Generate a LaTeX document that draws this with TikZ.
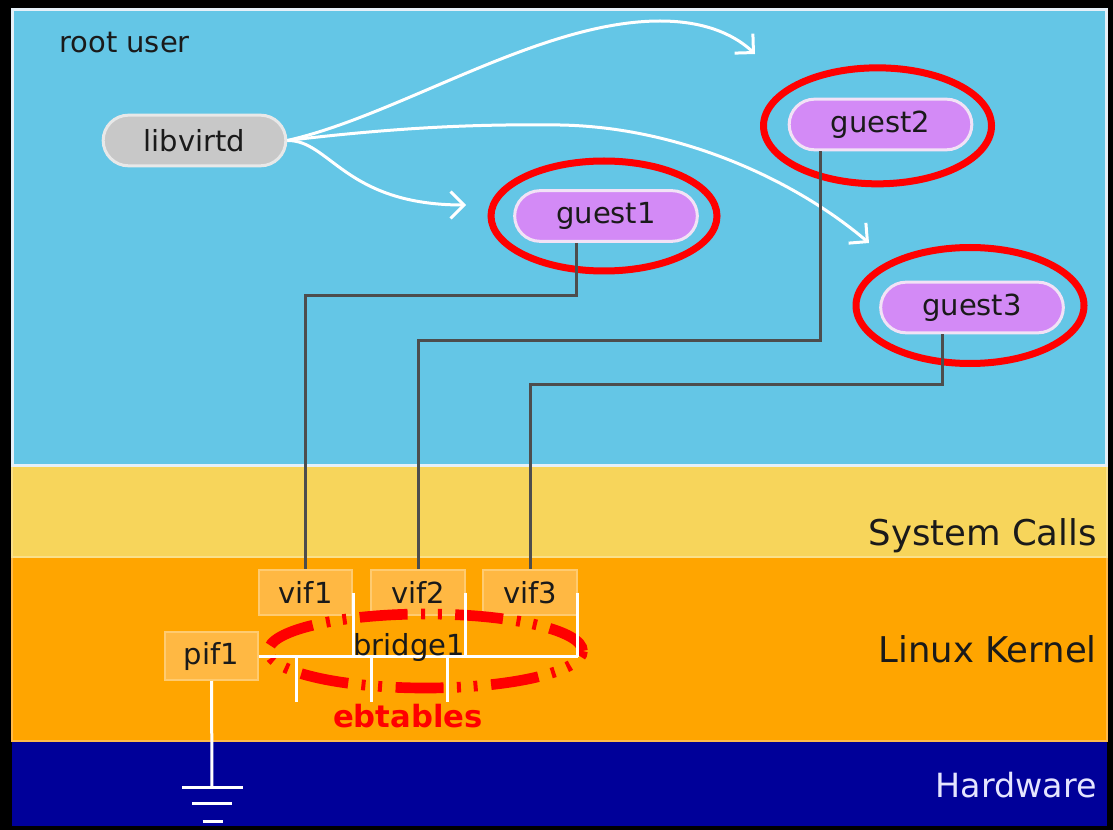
\documentclass[tikz,border=0pt]{standalone}
\usepackage{fontspec}
\setmainfont{DejaVu Sans}
\usetikzlibrary{arrows.meta,shapes.misc}

\definecolor{userblue}{HTML}{64C6E6}
\definecolor{userrim}{HTML}{E6F0F8}
\definecolor{sysyellow}{HTML}{F7D55B}
\definecolor{sysrim}{HTML}{FAE08A}
\definecolor{kernorange}{HTML}{FFA500}
\definecolor{kernrim}{HTML}{FFBA4A}
\definecolor{hwblue}{HTML}{000099}
\definecolor{hwtext}{HTML}{E4E4FF}
\definecolor{ink}{HTML}{1A1A1A}
\definecolor{daemongray}{HTML}{C8C8C8}
\definecolor{daemonrim}{HTML}{E8E8E8}
\definecolor{guestviolet}{HTML}{D38AF6}
\definecolor{guestrim}{HTML}{F2E2F6}
\definecolor{ifacefill}{HTML}{FFB843}
\definecolor{ifacerim}{HTML}{FFCB70}
\definecolor{linkgray}{HTML}{4D4D4D}

\newcommand{\lblfont}{\fontsize{21.75pt}{26pt}\selectfont}
\newcommand{\filterfont}{\fontsize{23pt}{27pt}\selectfont\bfseries}
\newcommand{\layerfont}{\fontsize{26.6pt}{31pt}\selectfont}
\newcommand{\hwfont}{\fontsize{25pt}{30pt}\selectfont}

\begin{document}
\begin{tikzpicture}[x=0.75pt,y=-0.75pt,
  pill/.style={rounded rectangle, line width=2.25pt, minimum width=137pt,
    minimum height=38pt, inner sep=0pt, text=ink, font=\lblfont},
  daemon/.style={pill, fill=daemongray, draw=daemonrim},
  guest/.style={pill, fill=guestviolet, draw=guestrim},
  iface/.style={rectangle, fill=ifacefill, draw=ifacerim, line width=1.5pt,
    minimum width=70pt, minimum height=33.75pt, inner sep=0pt, text=ink, font=\lblfont},
  ring/.style={draw=red, line width=5.25pt},
  flow/.style={draw=white, line width=2.25pt,
    -{Straight Barb[length=10pt,width=20pt,line width=2.25pt]}},
  link/.style={draw=linkgray, line width=2.25pt},
  wire/.style={draw=white, line width=2.25pt},
  layer/.style={anchor=base east, inner sep=0pt, text=ink, font=\layerfont},
  plain/.style={inner sep=0pt, text=ink, font=\lblfont}
]
\fill[black] (0,0) rectangle (1113,830);
\useasboundingbox (0,0) rectangle (1113,830);

% layers
\fill[hwblue] (12,741) rectangle (1107,826);
\filldraw[fill=kernorange, draw=kernrim, line width=1.5pt] (12,557) rectangle (1107,741);
\filldraw[fill=sysyellow, draw=sysrim, line width=1.5pt] (12,466) rectangle (1107,557);
\filldraw[fill=userblue, draw=userrim, line width=2.25pt] (12,10) rectangle (1106,465);

\node[plain, anchor=base west] (rootlbl) at (59,53) {root user};
\node[layer] (syscalls) at (1097,545) {System Calls};
\node[layer] (kernel) at (1097,662) {Linux Kernel};
\node[layer, text=hwtext, font=\hwfont] (hardware) at (1097,797) {Hardware};

% processes
\node[daemon] (lib) at (194.5,140.5) {libvirtd};
\node[guest] (g1) at (606,216) {guest1};
\node[guest] (g2) at (880.5,124.5) {guest2};
\node[guest] (g3) at (972,307.5) {guest3};

% monitored guests
\draw[ring] ([xshift=-1.5pt]g1.center) ellipse [x radius=84.75pt, y radius=41.25pt];
\draw[ring] ([xshift=-2.25pt,yshift=-1pt]g2.center) ellipse [x radius=85.5pt, y radius=43.5pt];
\draw[ring] ([xshift=-1.5pt,yshift=1.5pt]g3.center) ellipse [x radius=85.5pt, y radius=43.5pt];

% libvirtd launches the guests
\coordinate (t1) at (466,205);
\coordinate (t2) at (755,54);
\coordinate (t3) at (869,243);
\draw[flow] (lib.east) .. controls (330,140) and (345,205) .. (t1);
\draw[flow] (lib.east) .. controls (400,115) and (540,21) .. (660,21)
  .. controls (710,21) and (738,38) .. (t2);
\draw[flow] (lib.east) .. controls (400,127) and (480,124) .. (560,125)
  .. controls (680,127) and (795,180) .. (t3);

% kernel interfaces
\node[iface] (v1) at (305.5,592.5) {vif1};
\node[iface] (v2) at (418,592.5) {vif2};
\node[iface] (v3) at (530,592.5) {vif3};
\node[iface, minimum height=36pt] (p1) at (211.5,656) {pif1};

% guest NICs down to their vifs
\draw[link] ([xshift=-22.5pt]g1.south) -- ++(0,53) -| (v1.north);
\draw[link] ([xshift=-45pt]g2.south) -- ++(0,189) -| (v2.north);
\draw[link] ([xshift=-22.5pt]g3.south) -- ++(0,50) -| (v3.north);

% ebtables filter around the bridge (seven dash-dot-dot periods)
\draw[red, line width=8pt,
  dash pattern=on 36pt off 10pt on 3pt off 9.5pt on 3pt off 10.2pt, dash phase=4.5pt]
  (425.5,651) ellipse [x radius=117.75pt, y radius=27.75pt];

% bridge
\coordinate (bus) at (578,657);
\coordinate (s1) at (296,702);
\coordinate (s2) at (371,702);
\coordinate (s3) at (447,702);
\draw[wire] (p1.east) -- (p1.east -| bus);
\draw[wire] (v1.east) -- (v1.east |- bus);
\draw[wire] (v2.east) -- (v2.east |- bus);
\draw[wire] (v3.east) -- (v3.east |- bus);
\draw[wire] (s1 |- bus) -- (s1);
\draw[wire] (s2 |- bus) -- (s2);
\draw[wire] (s3 |- bus) -- (s3);
\node[plain, anchor=base] (br) at (409,655) {bridge1};
\node[inner sep=0pt, anchor=base, text=red, font=\filterfont] (ebt) at (408,727) {ebtables};

% earth
\coordinate (gnd) at (212,787);
\draw[wire] (p1.south) -- (gnd);
\draw[wire] ([xshift=-22.5pt]gnd) -- ([xshift=23.25pt]gnd);
\draw[wire] ([shift={(-15pt,-12pt)}]gnd) -- ([shift={(15pt,-12pt)}]gnd);
\draw[wire] ([shift={(-7pt,-25.5pt)}]gnd) -- ([shift={(8pt,-25.5pt)}]gnd);
\end{tikzpicture}
\end{document}
